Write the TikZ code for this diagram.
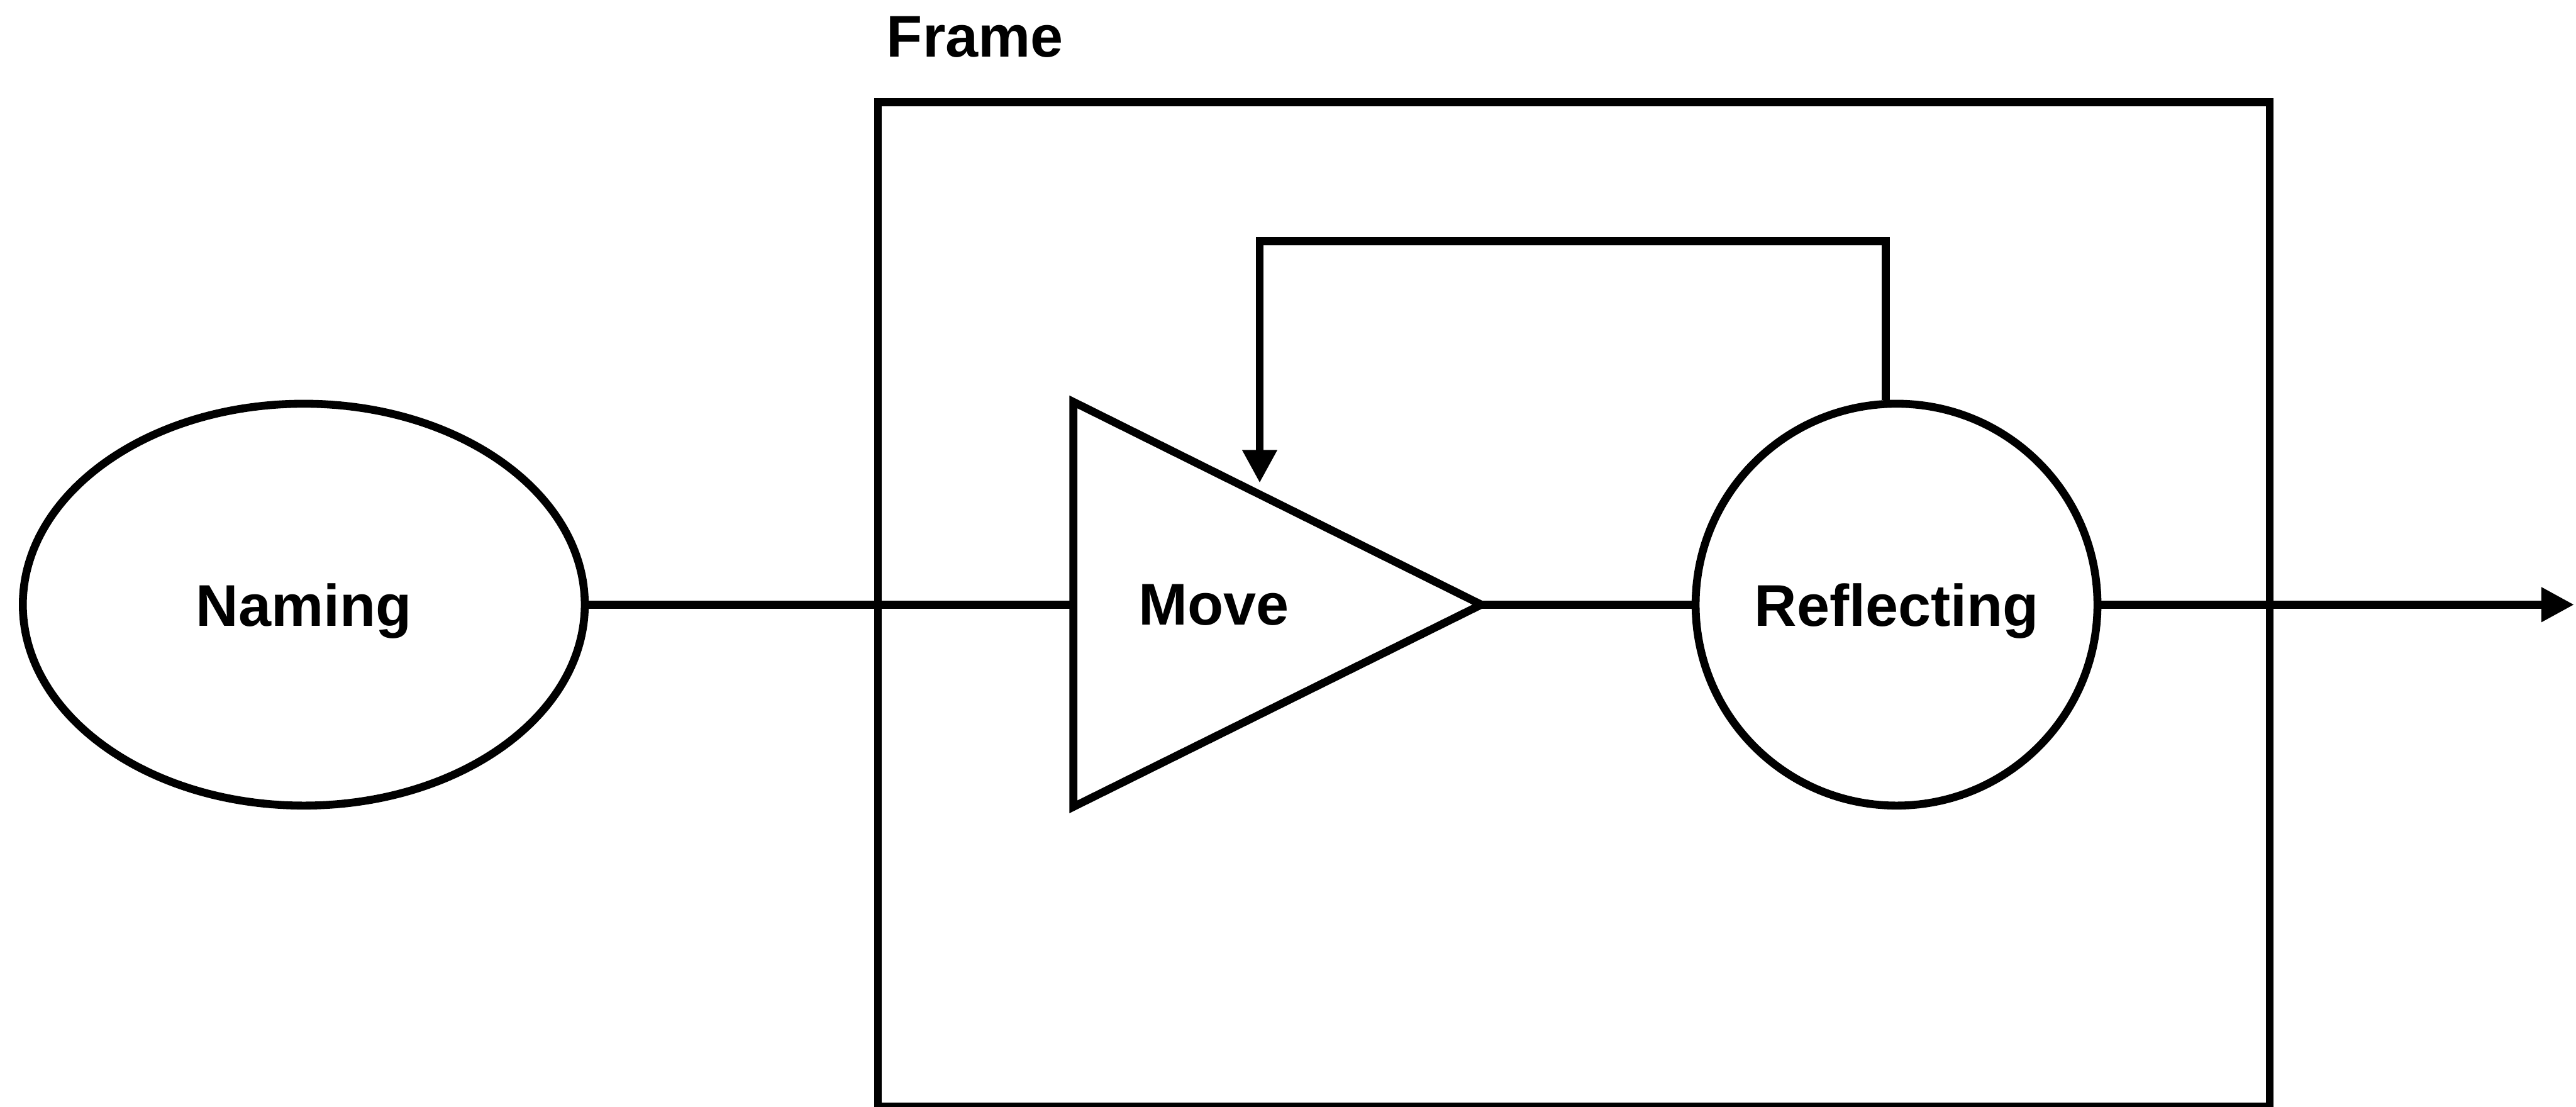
\documentclass[tikz,border=0pt]{standalone}
\usepackage{fontspec}
\setmainfont{Liberation Sans}
\usepackage{tikz}
\usetikzlibrary{shapes,arrows,arrows.meta,positioning,calc}

\begin{document}
\begin{tikzpicture}

   \tikzstyle{every edge}=[-,draw,line width=0.13cm]
   \tikzstyle{every node}=[font=\fontsize{27.5}{33}\selectfont\bfseries, text depth=0pt]
   \tikzstyle{blob}=[draw, line width=0.13cm, inner sep=0pt]
   \tikzstyle{endarrow}=[-{Triangle[length=0.54cm,width=0.54cm]}]

   \useasboundingbox (0,0) rectangle (42.31,-18.18);

   % frame round move and reflect
   \draw[line width=0.13cm] (14.42,-1.68) rectangle (37.28,-18.17);
   \node[anchor=base west] (F0) at (14.44,-0.93) {Frame};

   \node[blob, ellipse, minimum width=9.23cm, minimum height=6.6cm] (N1) at (4.99,-9.93) {Naming};
   \node[blob, circle, minimum size=6.6cm] (R1) at (31.15,-9.93) {Reflecting};

   % triangle by hand
   \coordinate (M0) at (17.63,-9.93);
   \coordinate (M1) at (24.33,-9.93);
   \draw[line width=0.13cm] (17.63,-6.60) -- (M1) -- (17.63,-13.25) -- cycle;
   \node (M2) at (19.94,-9.93) {Move};

   \coordinate (E1) at (42.28,-9.93);
   \coordinate (B2) at (20.69,-3.96);
   \coordinate (B3) at (20.69,-7.93);

   \path (N1) edge (M0);
   \path (M1) edge (R1);
   \path (R1) edge[endarrow] (E1);
   \draw[line width=0.13cm, endarrow] (R1.93) |- (B2) -- (B3);

\end{tikzpicture}
\end{document}
